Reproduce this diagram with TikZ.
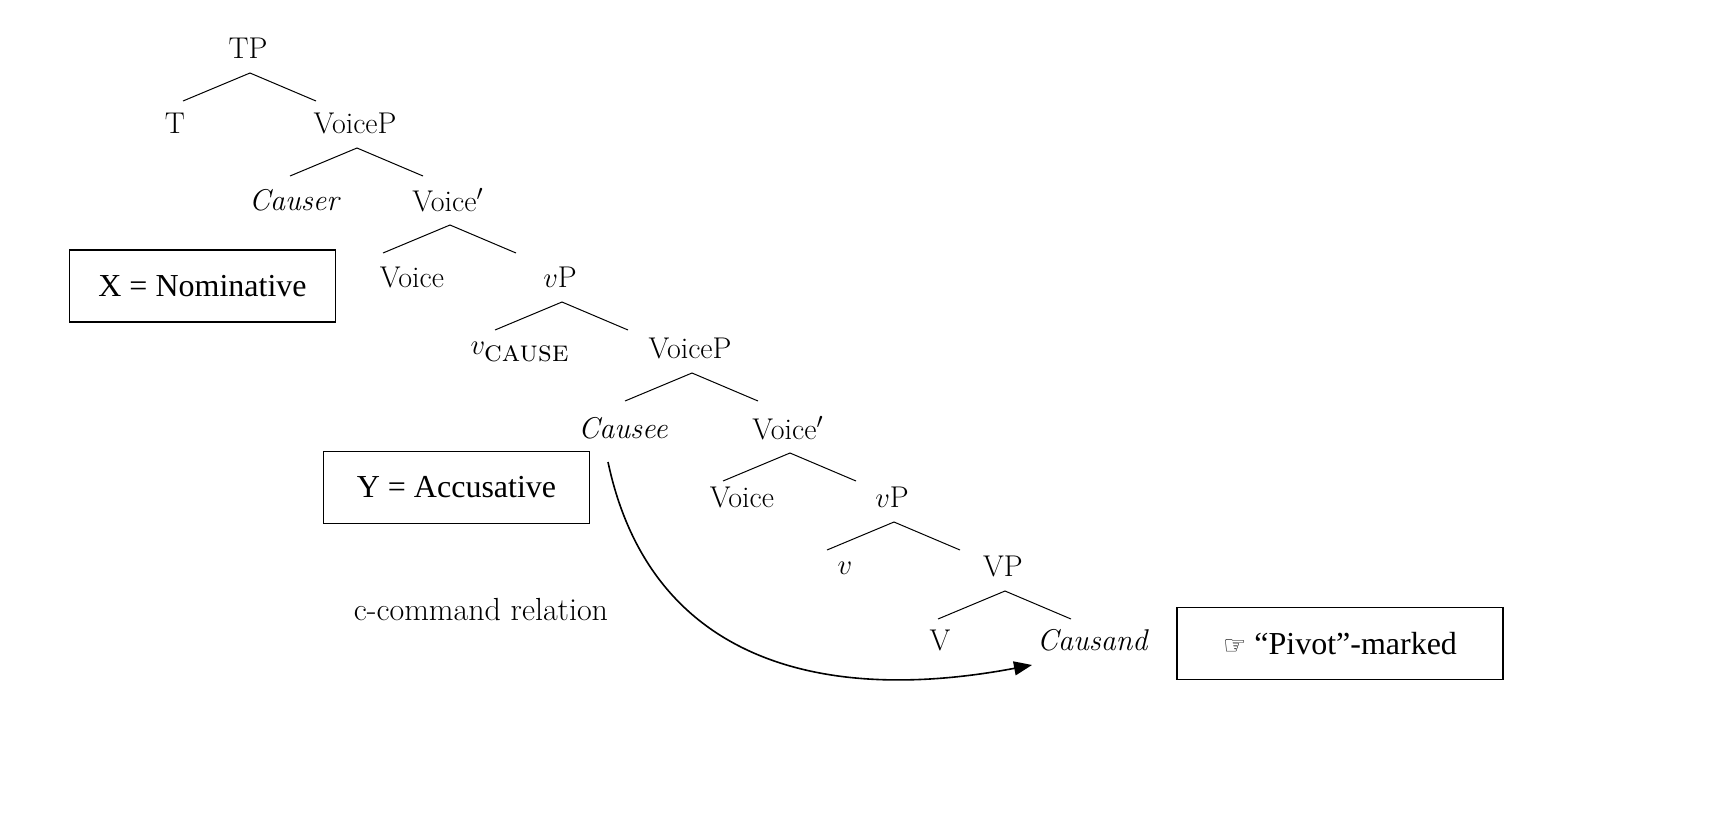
\documentclass[tikz,border=0pt]{standalone}
\usepackage{fontspec}
\newfontfamily\boxfont{Liberation Serif}
\newfontfamily\symfont{DejaVu Sans}
\usetikzlibrary{arrows.meta}

\tikzset{
  cat/.style={font=\fontsize{15}{17}\selectfont, inner sep=1pt},
  lab/.style={draw, thick, font=\boxfont\fontsize{16}{18}\selectfont, minimum height=36pt, inner xsep=10pt},
  branch/.style={line width=0.5pt}
}

\begin{document}
\begin{tikzpicture}[x=0.5pt, y=-0.5pt]
        \useasboundingbox (0,0) rectangle (1725,831);
        % Tree
        \node[cat] (tp) at (248,48) {TP};
        \node[cat] (t) at (175,123) {T};
        \node[cat] (vcp1) at (355,123) {VoiceP};
        \node[cat] (causer) at (295,200) {\textit{Causer}};
        \node[cat] (vcb1) at (448,200) {Voice$'$};
        \node[cat] (vc1) at (412,277) {Voice};
        \node[cat] (vp1) at (560,277) {$v$P};
        \node[cat] (vcause) at (520,352) {$v_{\textsc{cause}}$};
        \node[cat] (vcp2) at (690,348) {VoiceP};
        \node[cat] (causee) at (623,428) {\textit{Causee}};
        \node[cat] (vcb2) at (788,428) {Voice$'$};
        \node[cat] (vc2) at (742,497) {Voice};
        \node[cat] (vp2) at (892,497) {$v$P};
        \node[cat] (v) at (845,568) {$v$};
        \node[cat] (bigvp) at (1003,566) {VP};
        \node[cat] (bigv) at (940,640) {V};
        \node[cat] (causand) at (1093,640) {\textit{Causand}};

        % Branches
        \foreach \p in {tp, vcp1, vcb1, vp1, vcp2, vcb2, vp2, bigvp} {
            \draw[branch] ([xshift=-32.5pt,yshift=-26.5pt]\p.center)
                -- ([xshift=1pt,yshift=-12.5pt]\p.center)
                -- ([xshift=34pt,yshift=-26.5pt]\p.center);
        }

        % Case labels
        \node[lab, minimum width=133pt] (nom) at (202.5,286) {X = Nominative};
        \node[lab, minimum width=133pt] (acc) at (456.5,487.5) {Y = Accusative};
        \node[lab, minimum width=163pt] (pivot) at (1340,643.5) {{\symfont\fontsize{13}{15}\selectfont ☞} “Pivot”-marked};

        % c-command
        \node[font=\fontsize{16}{18}\selectfont] (cc) at (481,610) {c-command relation};
        \coordinate (from) at (608,462);
        \coordinate (to) at (1032,665);
        \draw[thick, -{Triangle[length=9pt,width=7pt]}] (from) .. controls (650,660) and (820,705) .. (to);
\end{tikzpicture}
\end{document}
